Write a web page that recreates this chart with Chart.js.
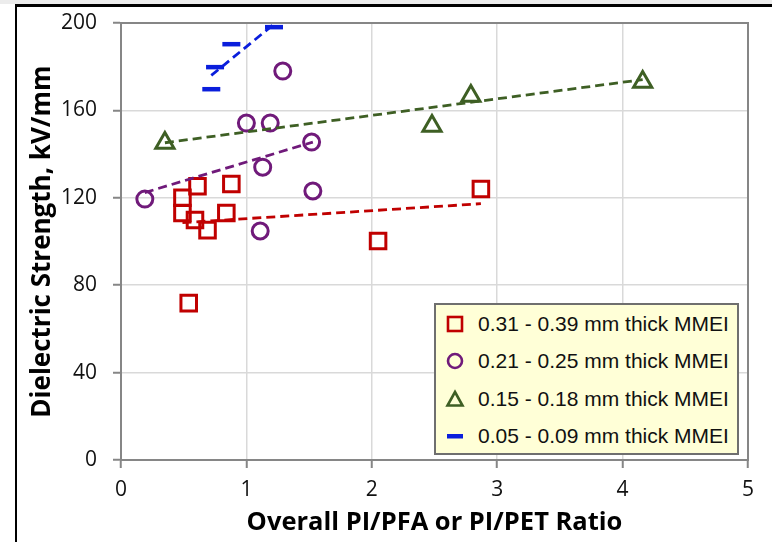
<!DOCTYPE html>
<html>
<head>
<meta charset="utf-8">
<title>Dielectric Strength vs PI ratio</title>
<script src="https://cdn.jsdelivr.net/npm/chart.js@4.4.0/dist/chart.umd.min.js"></script>
<style>
  html, body { margin: 0; padding: 0; background: #fff; }
  #wrap { position: relative; width: 772px; height: 542px; overflow: hidden; }
  #topband { position: absolute; left: 0; top: 0; width: 772px; height: 4px; background: #ececec; }
  #topline { position: absolute; left: 15px; top: 4px; width: 757px; height: 3px; background: #000; }
  #leftline { position: absolute; left: 15px; top: 4px; width: 2px; height: 538px; background: #000; }
  #chart { position: absolute; left: 0; top: 0; }
  #legend {
    position: absolute; left: 434px; top: 303px; width: 301px; height: 148px;
    background: #ffffd7; border: 2px solid #6f6f6f;
    font-family: "Liberation Sans", Arial, sans-serif; font-size: 21px; color: #111;
  }
  .row { display: flex; align-items: center; height: 37.5px; }
  .row svg { margin-left: 9px; margin-right: 13px; flex: none; }
</style>
</head>
<body>
<div id="wrap">
  <div id="topband"></div>
  <canvas id="chart" width="772" height="542"></canvas>
  <div id="topline"></div>
  <div id="leftline"></div>
  <div id="legend"></div>
</div>
<script>
  // data
  const seriesLabels = [
    '0.31 - 0.39 mm thick MMEI',
    '0.21 - 0.25 mm thick MMEI',
    '0.15 - 0.18 mm thick MMEI',
    '0.05 - 0.09 mm thick MMEI'
  ];
  const xTitle = 'Overall PI/PFA or PI/PET Ratio';
  const yTitle = 'Dielectric Strength, kV/mm';
  const xTicks = [0, 1, 2, 3, 4, 5];
  const yTicks = [0, 40, 80, 120, 160, 200];

  const thickX = [0.49, 0.49, 0.61, 0.88, 0.59, 0.69, 0.84, 2.05, 2.87, 0.54];
  const thickY = [120.0, 113.0, 125.3, 126.3, 109.8, 105.2, 113.0, 100.2, 124.0, 71.8];
  const midX = [1.29, 1.00, 1.19, 1.52, 1.13, 0.19, 1.53, 1.11];
  const midY = [178.0, 154.2, 154.2, 145.5, 134.0, 119.4, 123.1, 104.8];
  const thinX = [0.35, 2.48, 2.79, 4.16];
  const thinY = [145.1, 152.9, 166.6, 173.0];
  const filmX = [0.72, 0.75, 0.88, 1.22];
  const filmY = [169.7, 179.8, 190.3, 198.1];

  // trendline end points
  const thickTrendX = [0.49, 2.87];
  const thickTrendY = [108.6, 117.3];
  const midTrendX = [0.19, 1.53];
  const midTrendY = [122.4, 145.5];
  const thinTrendX = [0.35, 4.16];
  const thinTrendY = [145.2, 174.1];
  const filmTrendX = [0.72, 1.22];
  const filmTrendY = [176.0, 199.5];

  const colors = ['#c00000', '#701a7a', '#3e5f24', '#0a1edc'];

  const pts = (xs, ys) => xs.map((x, i) => ({ x, y: ys[i] }));

  const markerSet = (label, xs, ys, color, style, r, bw) => ({
    type: 'scatter', label, data: pts(xs, ys),
    pointStyle: style, pointRadius: r, pointHoverRadius: r,
    pointBorderWidth: bw, borderWidth: bw,
    borderColor: color, pointBorderColor: color,
    backgroundColor: 'rgba(0,0,0,0)', pointBackgroundColor: 'rgba(0,0,0,0)',
    showLine: false
  });

  const trendSet = (xs, ys, color) => ({
    type: 'scatter', label: '', data: pts(xs, ys),
    showLine: true, pointRadius: 0, pointHoverRadius: 0,
    borderColor: color, borderWidth: 2.8, borderDash: [9, 5], fill: false
  });

  // gray frame round the plot area
  const plotFrame = {
    id: 'plotFrame',
    beforeDatasetsDraw(chart) {
      const { ctx, chartArea: a } = chart;
      ctx.save();
      ctx.strokeStyle = '#868686';
      ctx.lineWidth = 2;
      ctx.strokeRect(a.left, a.top, a.right - a.left, a.bottom - a.top);
      ctx.restore();
    }
  };

  // fixed axis sizes so the plot area sits where the reference has it
  const noEdgePad = s => { s.paddingTop = 0; s.paddingBottom = 0; s.paddingLeft = 0; s.paddingRight = 0; };

  const tickFont = { family: 'Open Sans', size: 21 };

  new Chart(document.getElementById('chart'), {
    type: 'scatter',
    data: {
      datasets: [
        trendSet(thickTrendX, thickTrendY, colors[0]),
        trendSet(midTrendX, midTrendY, colors[1]),
        trendSet(thinTrendX, thinTrendY, colors[2]),
        trendSet(filmTrendX, filmTrendY, colors[3]),
        markerSet(seriesLabels[0], thickX, thickY, colors[0], 'rect', 11, 3),
        markerSet(seriesLabels[1], midX, midY, colors[1], 'circle', 8, 3),
        markerSet(seriesLabels[2], thinX, thinY, colors[2], 'triangle', 10.5, 3),
        markerSet(seriesLabels[3], filmX, filmY, colors[3], 'line', 9, 4.5)
      ]
    },
    options: {
      responsive: false,
      animation: false,
      events: [],
      layout: { padding: { top: 23, right: 24, left: 0, bottom: 0 } },
      plugins: { legend: { display: false }, tooltip: { enabled: false } },
      scales: {
        x: {
          type: 'linear', min: 0, max: 5,
          afterBuildTicks: s => { s.ticks = xTicks.map(v => ({ value: v })); },
          afterFit: s => { s.height = 82; noEdgePad(s); },
          grid: { color: '#d9d9d9', lineWidth: 1.5, tickColor: '#868686', tickLength: 8, tickWidth: 2 },
          border: { color: '#868686', width: 2 },
          ticks: { color: '#111', font: tickFont, padding: 9, maxRotation: 0 },
          title: { display: true, text: xTitle, color: '#000', font: { family: 'Open Sans', size: 25.5, weight: 'bold' }, padding: { top: 0, bottom: 4 } }
        },
        y: {
          type: 'linear', min: 0, max: 200,
          afterBuildTicks: s => { s.ticks = yTicks.map(v => ({ value: v })); },
          afterFit: s => { s.width = 121; noEdgePad(s); },
          grid: { color: '#d9d9d9', lineWidth: 1.5, tickColor: '#868686', tickLength: 8, tickWidth: 2 },
          border: { color: '#868686', width: 2 },
          ticks: { color: '#111', font: tickFont, padding: 16 },
          title: { display: true, text: yTitle, color: '#000', font: { family: 'Open Sans', size: 26, weight: 'bold' }, padding: { top: 27, bottom: 0 } }
        }
      }
    },
    plugins: [plotFrame]
  });

  // legend box inside the plot, built from the series labels
  const legendIcons = [
    c => `<rect x="3" y="3" width="14" height="14" fill="none" stroke="${c}" stroke-width="2.6"/>`,
    c => `<circle cx="10" cy="10" r="7" fill="none" stroke="${c}" stroke-width="2.6"/>`,
    c => `<polygon points="10,3 17.5,16.5 2.5,16.5" fill="none" stroke="${c}" stroke-width="2.6"/>`,
    c => `<rect x="2" y="8" width="16" height="4.5" fill="${c}"/>`
  ];
  document.getElementById('legend').innerHTML = seriesLabels.map((lab, i) => `
    <div class="row">
      <svg width="20" height="20" viewBox="0 0 20 20">${legendIcons[i](colors[i])}</svg>
      <span>${lab}</span>
    </div>`).join('');
</script>
</body>
</html>
